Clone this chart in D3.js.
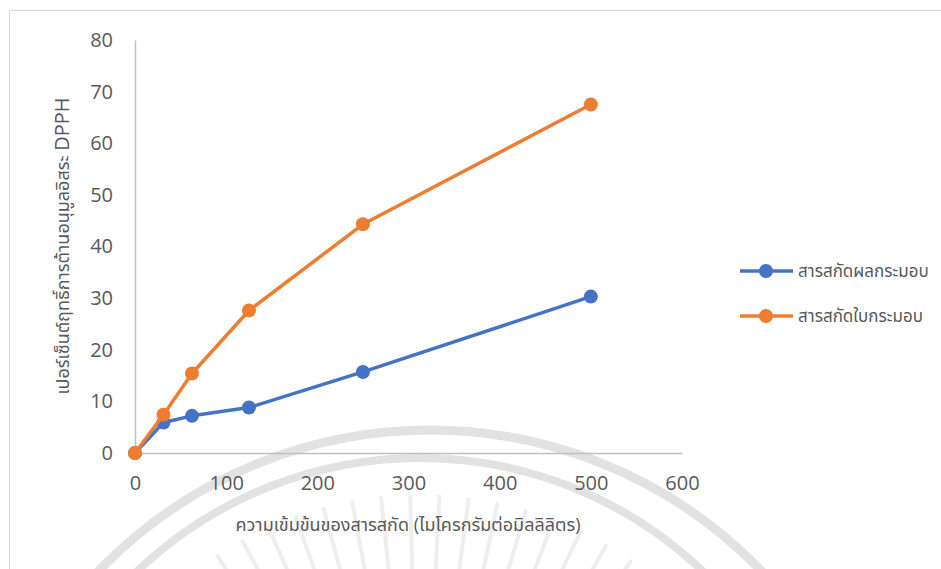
<!DOCTYPE html>
<html><head><meta charset="utf-8">
<script src="https://cdn.jsdelivr.net/npm/d3@7"></script>
<style>
html,body{margin:0;padding:0;background:#fff;}
svg{display:block;}
text{font-family:"Open Sans","Noto Sans","Noto Sans Thai",sans-serif;}
</style></head>
<body>
<svg id="chart" width="941" height="569"></svg>
<script>
const xValues = [0, 31.25, 62.5, 125, 250, 500];
const fruitValues = [0, 5.9, 7.2, 8.8, 15.7, 30.3];
const leafValues = [0, 7.4, 15.4, 27.6, 44.3, 67.5];
const seriesNames = ["สารสกัดผลกระมอบ", "สารสกัดใบกระมอบ"];
const xTicks = [0, 100, 200, 300, 400, 500, 600];
const yTicks = [0, 10, 20, 30, 40, 50, 60, 70, 80];
const xTitle = "ความเข้มข้นของสารสกัด (ไมโครกรัมต่อมิลลิลิตร)";
const yTitle = "เปอร์เซ็นต์ฤทธิ์การต้านอนุมูลอิสระ ";
const yTitleTail = "DPPH";

const series = [
  {name: seriesNames[0], values: fruitValues, color: "#4472C4"},
  {name: seriesNames[1], values: leafValues, color: "#ED7D31"}
];

const svg = d3.select("#chart");
const textColor = "#595959";

// watermark (faint seal)
const wm = svg.append("g");
const rays = d3.range(-42, 43, 4.5);
rays.forEach(a => {
  const r = a * Math.PI / 180;
  const cx = 420, cy = 868;
  wm.append("line")
    .attr("x1", cx + Math.sin(r) * 250).attr("y1", cy - Math.cos(r) * 250)
    .attr("x2", cx + Math.sin(r) * 372).attr("y2", cy - Math.cos(r) * 372)
    .attr("stroke", "#eeeeee").attr("stroke-width", 4).attr("stroke-linecap", "round");
});
wm.append("circle").attr("cx", 430).attr("cy", 890).attr("r", 460)
  .attr("fill", "none").attr("stroke", "#e2e2e2").attr("stroke-width", 9);
wm.append("circle").attr("cx", 420).attr("cy", 868).attr("r", 410)
  .attr("fill", "none").attr("stroke", "#e2e2e2").attr("stroke-width", 8);

// chart border
svg.append("rect").attr("x", 9.5).attr("y", 10.5).attr("width", 960).attr("height", 600)
  .attr("fill", "none").attr("stroke", "#d9d9d9").attr("stroke-width", 1);

const x = d3.scaleLinear().domain([0, 600]).range([135, 682]);
const y = d3.scaleLinear().domain([0, 80]).range([453, 40]);

// axes
const xAxis = svg.append("g").attr("transform", `translate(0,${y(0)})`)
  .call(d3.axisBottom(x).tickValues(xTicks).tickSize(0).tickPadding(23));
xAxis.select(".domain").attr("stroke", "#bfbfbf").attr("stroke-width", 1.5);
xAxis.selectAll("text").attr("fill", textColor).style("font-size", "20px");

const yAxis = svg.append("g").attr("transform", `translate(${x(0)},0)`)
  .call(d3.axisLeft(y).tickValues(yTicks).tickSize(0).tickPadding(22));
yAxis.select(".domain").attr("stroke", "#bfbfbf").attr("stroke-width", 1.5);
yAxis.selectAll("text").attr("fill", textColor).style("font-size", "20px");

// titles
svg.append("text").attr("x", 408).attr("y", 531).attr("text-anchor", "middle")
  .attr("fill", textColor).style("font-size", "18px").text(xTitle);
const yt = svg.append("text").attr("transform", "translate(69,246) rotate(-90)")
  .attr("text-anchor", "middle").attr("fill", textColor).style("font-size", "18px");
yt.append("tspan").text(yTitle);
yt.append("tspan").style("font-size", "20px").text(yTitleTail);

// lines & markers
const line = d3.line().x((d, i) => x(xValues[i])).y(d => y(d));
series.forEach(s => {
  svg.append("path").datum(s.values).attr("d", line)
    .attr("fill", "none").attr("stroke", s.color).attr("stroke-width", 3.5)
    .attr("stroke-linejoin", "round");
  svg.selectAll(null).data(s.values).enter().append("circle")
    .attr("cx", (d, i) => x(xValues[i])).attr("cy", d => y(d)).attr("r", 7)
    .attr("fill", s.color);
});

// legend
series.forEach((s, i) => {
  const ly = 271 + i * 45;
  const g = svg.append("g");
  g.append("line").attr("x1", 740).attr("x2", 793).attr("y1", ly).attr("y2", ly)
    .attr("stroke", s.color).attr("stroke-width", 3.5);
  g.append("circle").attr("cx", 766).attr("cy", ly).attr("r", 7).attr("fill", s.color);
  g.append("text").attr("x", 798).attr("y", ly).attr("dy", "0.35em")
    .attr("fill", textColor).style("font-size", "17px").text(s.name);
});
</script>
</body></html>
